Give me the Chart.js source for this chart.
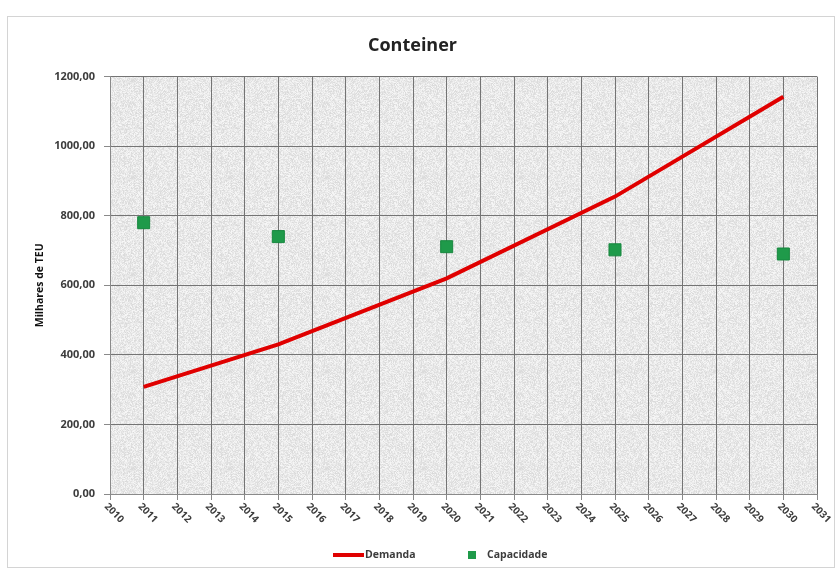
<!DOCTYPE html>
<html>
<head>
<meta charset="utf-8">
<script src="https://cdn.jsdelivr.net/npm/chart.js@4"></script>
<style>
  html, body { margin: 0; padding: 0; background: #fff; }
  #wrap { width: 839px; height: 569px; position: relative; }
</style>
</head>
<body>
<div id="wrap"><canvas id="chart"></canvas></div>
<script>
// data
const years = ['2010', '2011', '2012', '2013', '2014', '2015', '2016', '2017', '2018', '2019', '2020',
               '2021', '2022', '2023', '2024', '2025', '2026', '2027', '2028', '2029', '2030', '2031'];
const demanda = [null, 308, null, null, null, 430, null, null, null, null, 620,
                 null, null, null, null, 855, null, null, null, null, 1142, null];
const capacidade = [null, 780, null, null, null, 740, null, null, null, null, 711,
                    null, null, null, null, 702, null, null, null, null, 690, null];

const FONT = '"Open Sans", "Liberation Sans", sans-serif';
const TEXT = '#3c3c3c';
const RED = '#e00000';
const GREEN = '#1f9a4a';

// speckled grey fill for the plot area (fixed hash pattern, decoration only)
function makeTexture() {
    const n = 97;
    const c = document.createElement('canvas');
    c.width = n; c.height = n;
    const g = c.getContext('2d');
    const img = g.createImageData(n, n);
    for (let i = 0; i < n * n; i++) {
        let h = Math.imul(i + 7, 2654435761) >>> 0;
        h = Math.imul(h ^ (h >>> 15), 2246822519) >>> 0;
        h = (h ^ (h >>> 13)) >>> 0;
        const v = 218 + (h % 30);
        img.data[i * 4] = v;
        img.data[i * 4 + 1] = v;
        img.data[i * 4 + 2] = v;
        img.data[i * 4 + 3] = 255;
    }
    g.putImageData(img, 0, 0);
    return c;
}
const texture = makeTexture();

const chartFrame = {
    id: 'chartFrame',
    beforeDraw(chart) {
        const { ctx, chartArea: a } = chart;
        ctx.save();
        ctx.fillStyle = '#fff';
        ctx.fillRect(0, 0, chart.width, chart.height);
        ctx.strokeStyle = '#d4d4d4';
        ctx.lineWidth = 1;
        ctx.strokeRect(7.5, 16.5, 827, 551);
        ctx.fillStyle = ctx.createPattern(texture, 'repeat');
        ctx.fillRect(a.left, a.top, a.right - a.left, a.bottom - a.top);
        ctx.restore();
    }
};

// x labels turned 45 degrees clockwise, starting under each tick
const slantedLabels = {
    id: 'slantedLabels',
    afterDraw(chart) {
        const { ctx } = chart;
        const sx = chart.scales.x;
        ctx.save();
        ctx.font = 'bold 10px ' + FONT;
        ctx.fillStyle = TEXT;
        ctx.textAlign = 'left';
        ctx.textBaseline = 'middle';
        years.forEach((y, i) => {
            const x = sx.getPixelForTick(i);
            ctx.save();
            ctx.translate(x - 4, sx.top + 11);
            ctx.rotate(Math.PI / 4);
            ctx.fillText(y, 0, 0);
            ctx.restore();
        });
        ctx.restore();
    }
};

// legend under the plot: red line + green square, labels from the datasets
const bottomLegend = {
    id: 'bottomLegend',
    afterDraw(chart) {
        const { ctx } = chart;
        const ds = chart.data.datasets;
        const y = 555;
        ctx.save();
        ctx.font = 'bold 10.5px ' + FONT;
        ctx.textAlign = 'left';
        ctx.textBaseline = 'middle';
        // Demanda
        ctx.fillStyle = RED;
        ctx.fillRect(333, y - 2, 31, 4);
        ctx.fillStyle = TEXT;
        ctx.fillText(ds[0].label, 365, y);
        // Capacidade
        ctx.fillStyle = GREEN;
        ctx.fillRect(468, y - 4, 8, 8);
        ctx.fillStyle = TEXT;
        ctx.fillText(ds[1].label, 487, y);
        ctx.restore();
    }
};

new Chart(document.getElementById('chart'), {
    type: 'line',
    data: {
        labels: years,
        datasets: [{
            label: 'Demanda',
            data: demanda,
            borderColor: RED,
            borderWidth: 4,
            pointRadius: 0,
            spanGaps: true,
            tension: 0,
            order: 2
        }, {
            label: 'Capacidade',
            data: capacidade,
            showLine: false,
            pointStyle: 'rect',
            pointRadius: 8.5,
            backgroundColor: GREEN,
            borderColor: '#17873e',
            borderWidth: 1,
            order: 1
        }]
    },
    options: {
        responsive: true,
        maintainAspectRatio: false,
        animation: false,
        layout: { padding: { left: 8, right: 22, top: 11, bottom: 20 } },
        scales: {
            x: {
                offset: false,
                grid: { color: '#747474', lineWidth: 1, drawTicks: true, tickLength: 6, tickColor: '#8a8a8a' },
                border: { color: '#8a8a8a' },
                ticks: { display: false, autoSkip: false },
                afterFit(scale) { scale.height = 55; }
            },
            y: {
                min: 0,
                max: 1200,
                grid: { color: '#747474', lineWidth: 1, tickLength: 6, tickColor: '#8a8a8a' },
                border: { color: '#8a8a8a' },
                ticks: {
                    stepSize: 200,
                    padding: 9,
                    color: TEXT,
                    font: { family: FONT, size: 11, weight: 'bold' },
                    callback: v => v.toFixed(2).replace('.', ',')
                },
                title: {
                    display: true,
                    text: 'Milhares de TEU',
                    color: '#111',
                    font: { family: FONT, size: 10.5, weight: 'bold' },
                    padding: { top: 26, bottom: 0 }
                },
                afterFit(scale) { scale.width = 102; }
            }
        },
        plugins: {
            title: {
                display: true,
                text: 'Conteiner',
                color: '#222',
                font: { family: FONT, size: 18, weight: 'bold' },
                padding: { top: 24, bottom: 20 }
            },
            legend: { display: false },
            tooltip: { enabled: false }
        }
    },
    plugins: [chartFrame, slantedLabels, bottomLegend]
});
</script>
</body>
</html>
